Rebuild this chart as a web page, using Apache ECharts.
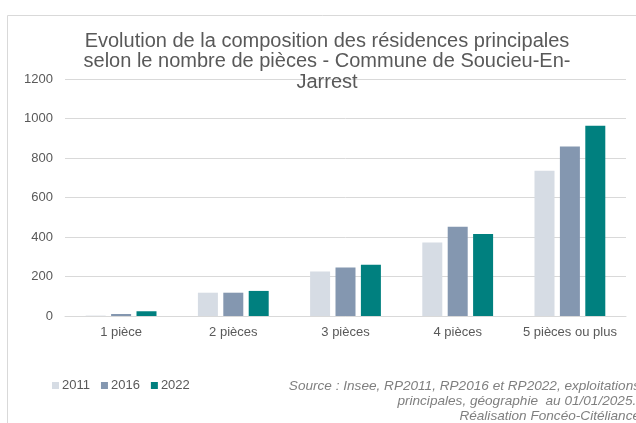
<!DOCTYPE html>
<html>
<head>
<meta charset="utf-8">
<script src="https://cdn.jsdelivr.net/npm/echarts@6/dist/echarts.min.js"></script>
<style>
  html, body { margin: 0; padding: 0; background: #fff; }
  #chart { width: 636px; height: 423px; }
</style>
</head>
<body>
<div id="chart"></div>
<script>
// données
const categories = ['1 pièce', '2 pièces', '3 pièces', '4 pièces', '5 pièces ou plus']
const years = ['2011', '2016', '2022']
const val2011 = [2, 118, 225, 372, 736]
const val2016 = [10, 118, 245, 452, 858]
const val2022 = [24, 127, 259, 415, 963]
const colors = ['#D6DCE4', '#8497B0', '#00807F']

const textColor = '#595959'
const font = 'Liberation Sans, Arial, sans-serif'

const chart = echarts.init(document.getElementById('chart'))

chart.setOption({
  animation: false,
  textStyle: { fontFamily: font },
  title: {
    text: 'Evolution de la composition des résidences principales\nselon le nombre de pièces - Commune de Soucieu-En-\nJarrest',
    left: 327,
    top: 31,
    padding: 0,
    textAlign: 'center',
    textStyle: {
      color: textColor,
      fontSize: 20,
      fontWeight: 'normal',
      lineHeight: 20.5,
      fontFamily: font
    }
  },
  legend: {
    data: years,
    left: 47,
    top: 374,
    itemWidth: 7,
    itemHeight: 7,
    itemGap: 11,
    icon: 'rect',
    textStyle: { color: textColor, fontSize: 13, padding: [0, 0, 0, -2] }
  },
  grid: {
    left: 65,
    right: 10,
    top: 79,
    bottom: 107,
    containLabel: false
  },
  xAxis: {
    type: 'category',
    data: categories,
    axisLine: { lineStyle: { color: '#D9D9D9', width: 1 } },
    axisTick: { show: false },
    axisLabel: { color: textColor, fontSize: 13, margin: 10, interval: 0 }
  },
  yAxis: {
    type: 'value',
    min: 0,
    max: 1200,
    interval: 200,
    axisLine: { show: false },
    axisTick: { show: false },
    axisLabel: { color: textColor, fontSize: 13, margin: 12, formatter: v => String(v) },
    splitLine: { lineStyle: { color: '#D9D9D9', width: 1 } }
  },
  series: [
    { name: years[0], type: 'bar', data: val2011, itemStyle: { color: colors[0] }, barWidth: 20, barGap: '27%' },
    { name: years[1], type: 'bar', data: val2016, itemStyle: { color: colors[1] }, barWidth: 20, barGap: '27%' },
    { name: years[2], type: 'bar', data: val2022, itemStyle: { color: colors[2] }, barWidth: 20, barGap: '27%' }
  ],
  graphic: [
    {
      type: 'rect',
      shape: { x: 7.5, y: 15.5, width: 700, height: 500 },
      style: { fill: 'none', stroke: '#D9D9D9', lineWidth: 1 },
      silent: true
    },
    {
      type: 'text',
      x: 640,
      y: 379,
      style: {
        text: 'Source : Insee, RP2011, RP2016 et RP2022, exploitations\nprincipales, géographie  au 01/01/2025..\nRéalisation Foncéo-Citéliance',
        align: 'right',
        fill: '#7F7F7F',
        font: 'italic 13.6px Liberation Sans, Arial, sans-serif',
        lineHeight: 15
      }
    }
  ]
})
</script>
</body>
</html>
